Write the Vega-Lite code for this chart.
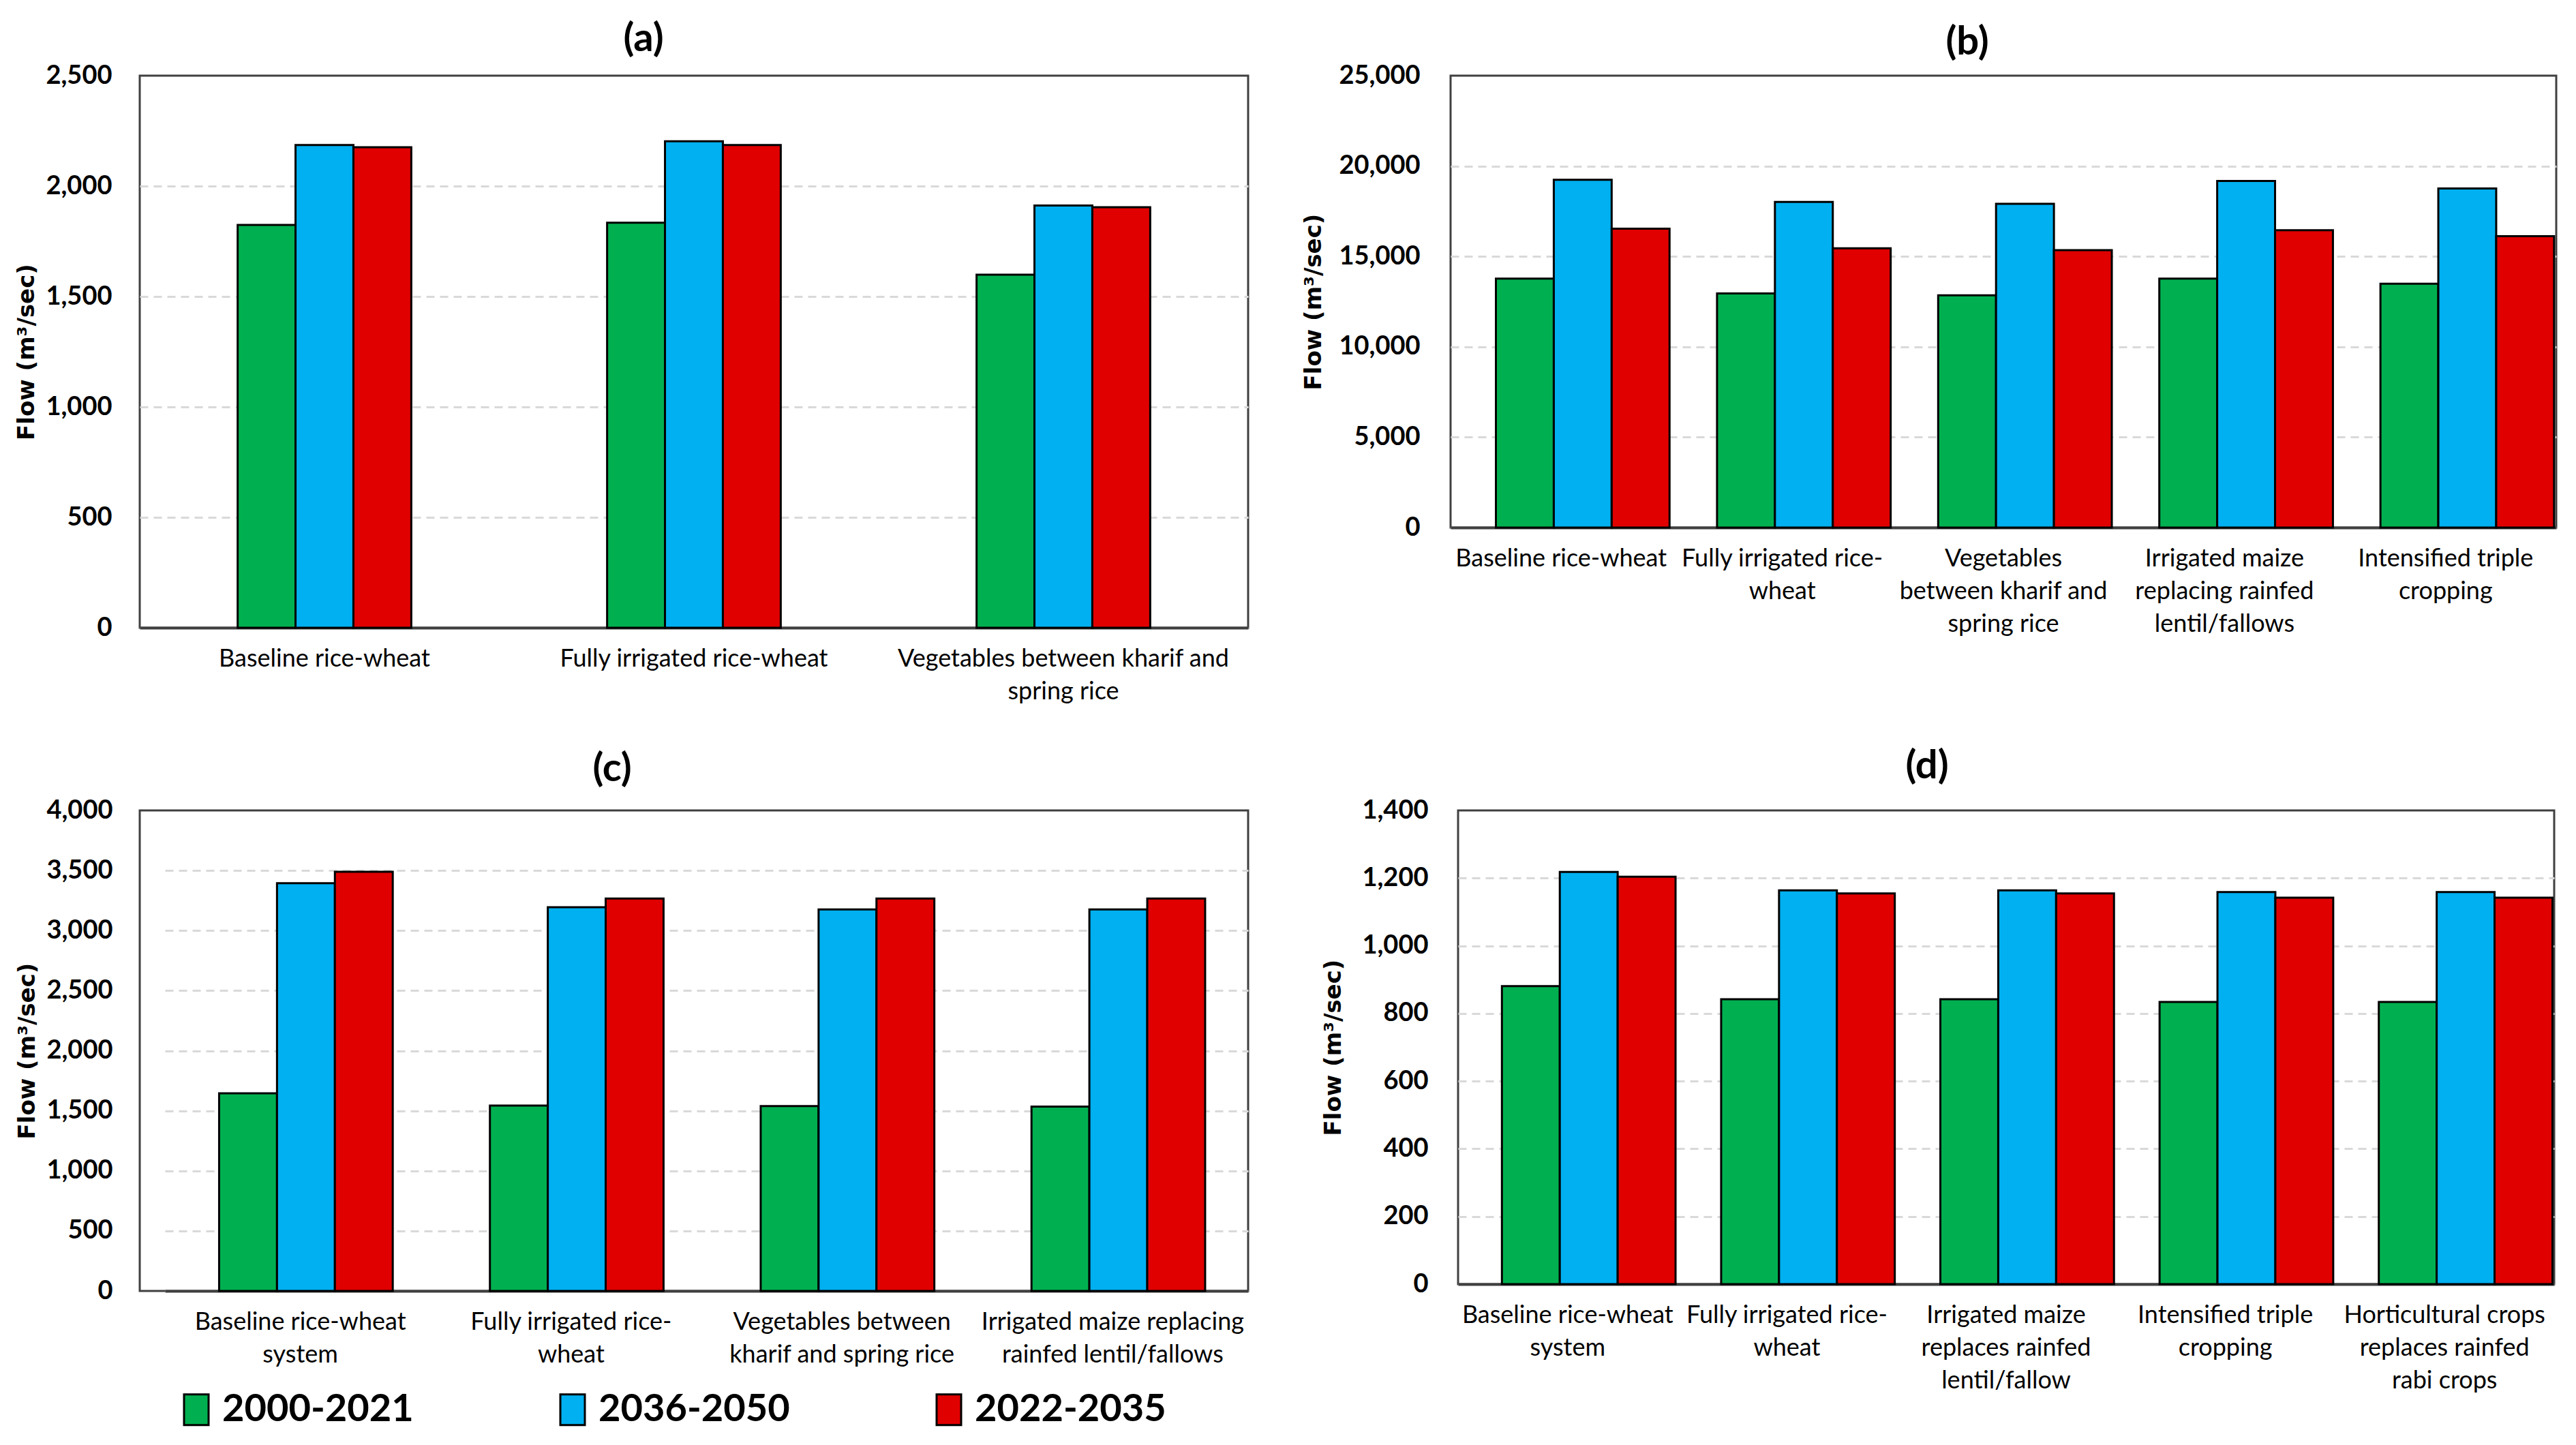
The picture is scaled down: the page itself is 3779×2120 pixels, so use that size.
{
  "$schema": "https://vega.github.io/schema/vega-lite/v6.json",
  "background": "white",
  "padding": {"left": 21, "top": 27, "right": 10, "bottom": 5},
  "datasets": {
    "flows": [
      {"panel": "a", "scenario": "Baseline rice-wheat", "period": "2000-2021", "flow": 1824},
      {"panel": "a", "scenario": "Baseline rice-wheat", "period": "2036-2050", "flow": 2186},
      {"panel": "a", "scenario": "Baseline rice-wheat", "period": "2022-2035", "flow": 2176},
      {"panel": "a", "scenario": "Fully irrigated rice-wheat", "period": "2000-2021", "flow": 1834},
      {"panel": "a", "scenario": "Fully irrigated rice-wheat", "period": "2036-2050", "flow": 2203},
      {"panel": "a", "scenario": "Fully irrigated rice-wheat", "period": "2022-2035", "flow": 2186},
      {"panel": "a", "scenario": "Vegetables between kharif and\nspring rice", "period": "2000-2021", "flow": 1599},
      {"panel": "a", "scenario": "Vegetables between kharif and\nspring rice", "period": "2036-2050", "flow": 1912},
      {"panel": "a", "scenario": "Vegetables between kharif and\nspring rice", "period": "2022-2035", "flow": 1904},

      {"panel": "b", "scenario": "Baseline rice-wheat", "period": "2000-2021", "flow": 13770},
      {"panel": "b", "scenario": "Baseline rice-wheat", "period": "2036-2050", "flow": 19240},
      {"panel": "b", "scenario": "Baseline rice-wheat", "period": "2022-2035", "flow": 16530},
      {"panel": "b", "scenario": "Fully irrigated rice-\nwheat", "period": "2000-2021", "flow": 12950},
      {"panel": "b", "scenario": "Fully irrigated rice-\nwheat", "period": "2036-2050", "flow": 18010},
      {"panel": "b", "scenario": "Fully irrigated rice-\nwheat", "period": "2022-2035", "flow": 15450},
      {"panel": "b", "scenario": "Vegetables\nbetween kharif and\nspring rice", "period": "2000-2021", "flow": 12850},
      {"panel": "b", "scenario": "Vegetables\nbetween kharif and\nspring rice", "period": "2036-2050", "flow": 17910},
      {"panel": "b", "scenario": "Vegetables\nbetween kharif and\nspring rice", "period": "2022-2035", "flow": 15350},
      {"panel": "b", "scenario": "Irrigated maize\nreplacing rainfed\nlentil/fallows", "period": "2000-2021", "flow": 13770},
      {"panel": "b", "scenario": "Irrigated maize\nreplacing rainfed\nlentil/fallows", "period": "2036-2050", "flow": 19170},
      {"panel": "b", "scenario": "Irrigated maize\nreplacing rainfed\nlentil/fallows", "period": "2022-2035", "flow": 16450},
      {"panel": "b", "scenario": "Intensified triple\ncropping", "period": "2000-2021", "flow": 13490},
      {"panel": "b", "scenario": "Intensified triple\ncropping", "period": "2036-2050", "flow": 18760},
      {"panel": "b", "scenario": "Intensified triple\ncropping", "period": "2022-2035", "flow": 16120},

      {"panel": "c", "scenario": "Baseline rice-wheat\nsystem", "period": "2000-2021", "flow": 1645},
      {"panel": "c", "scenario": "Baseline rice-wheat\nsystem", "period": "2036-2050", "flow": 3395},
      {"panel": "c", "scenario": "Baseline rice-wheat\nsystem", "period": "2022-2035", "flow": 3490},
      {"panel": "c", "scenario": "Fully irrigated rice-\nwheat", "period": "2000-2021", "flow": 1543},
      {"panel": "c", "scenario": "Fully irrigated rice-\nwheat", "period": "2036-2050", "flow": 3195},
      {"panel": "c", "scenario": "Fully irrigated rice-\nwheat", "period": "2022-2035", "flow": 3266},
      {"panel": "c", "scenario": "Vegetables between\nkharif and spring rice", "period": "2000-2021", "flow": 1539},
      {"panel": "c", "scenario": "Vegetables between\nkharif and spring rice", "period": "2036-2050", "flow": 3176},
      {"panel": "c", "scenario": "Vegetables between\nkharif and spring rice", "period": "2022-2035", "flow": 3266},
      {"panel": "c", "scenario": "Irrigated maize replacing\nrainfed lentil/fallows", "period": "2000-2021", "flow": 1535},
      {"panel": "c", "scenario": "Irrigated maize replacing\nrainfed lentil/fallows", "period": "2036-2050", "flow": 3176},
      {"panel": "c", "scenario": "Irrigated maize replacing\nrainfed lentil/fallows", "period": "2022-2035", "flow": 3266},

      {"panel": "d", "scenario": "Baseline rice-wheat\nsystem", "period": "2000-2021", "flow": 881},
      {"panel": "d", "scenario": "Baseline rice-wheat\nsystem", "period": "2036-2050", "flow": 1218},
      {"panel": "d", "scenario": "Baseline rice-wheat\nsystem", "period": "2022-2035", "flow": 1204},
      {"panel": "d", "scenario": "Fully irrigated rice-\nwheat", "period": "2000-2021", "flow": 842},
      {"panel": "d", "scenario": "Fully irrigated rice-\nwheat", "period": "2036-2050", "flow": 1164},
      {"panel": "d", "scenario": "Fully irrigated rice-\nwheat", "period": "2022-2035", "flow": 1155},
      {"panel": "d", "scenario": "Irrigated maize\nreplaces rainfed\nlentil/fallow", "period": "2000-2021", "flow": 842},
      {"panel": "d", "scenario": "Irrigated maize\nreplaces rainfed\nlentil/fallow", "period": "2036-2050", "flow": 1164},
      {"panel": "d", "scenario": "Irrigated maize\nreplaces rainfed\nlentil/fallow", "period": "2022-2035", "flow": 1155},
      {"panel": "d", "scenario": "Intensified triple\ncropping", "period": "2000-2021", "flow": 834},
      {"panel": "d", "scenario": "Intensified triple\ncropping", "period": "2036-2050", "flow": 1159},
      {"panel": "d", "scenario": "Intensified triple\ncropping", "period": "2022-2035", "flow": 1142},
      {"panel": "d", "scenario": "Horticultural crops\nreplaces rainfed\nrabi crops", "period": "2000-2021", "flow": 834},
      {"panel": "d", "scenario": "Horticultural crops\nreplaces rainfed\nrabi crops", "period": "2036-2050", "flow": 1159},
      {"panel": "d", "scenario": "Horticultural crops\nreplaces rainfed\nrabi crops", "period": "2022-2035", "flow": 1142}
    ]
  },
  "config": {
    "font": "Lato",
    "view": {"stroke": "#404040", "strokeWidth": 3},
    "bar": {"stroke": "black", "strokeWidth": 3},
    "axis": {"labelFont": "Lato", "labelColor": "black", "titleColor": "black"},
    "axisY": {
      "labelFontSize": 38, "labelFontWeight": "bold", "labelPadding": 41,
      "ticks": false, "domain": false, "grid": true,
      "gridColor": "#D9D9D9", "gridDash": [12, 8], "gridWidth": 3,
      "titleFont": "DejaVu Sans", "titleFontSize": 34, "titleFontWeight": "bold", "titlePadding": 10
    },
    "axisX": {
      "labelFontSize": 36, "labelPadding": 28, "ticks": false,
      "domainColor": "#404040", "domainWidth": 4, "labelAngle": 0,
      "labelLimit": 800, "labelLineHeight": 48, "labelOverlap": false, "grid": false
    },
    "title": {"font": "Lato", "fontSize": 58, "fontWeight": "bold", "color": "black"},
    "legend": {
      "orient": "none", "legendX": 55, "legendY": 1929, "direction": "horizontal",
      "symbolType": "M-0.8,-1H0.8V1H-0.8Z", "symbolSize": 2025,
      "symbolStrokeColor": "black", "symbolStrokeWidth": 4,
      "labelFont": "Lato", "labelFontSize": 56, "labelFontWeight": "bold", "labelColor": "black",
      "labelOffset": 10, "columnPadding": 205, "labelLimit": 600, "padding": 0
    }
  },
  "spacing": 60,
  "vconcat": [
    {
      "spacing": 76,
      "hconcat": [
        {
          "title": {"text": "(a)", "offset": 5, "dx": -74},
          "width": 1626, "height": 810,
          "data": {"name": "flows"},
          "transform": [{"filter": "datum.panel === 'a'"}],
          "mark": "bar",
          "encoding": {
            "x": {"field": "scenario", "type": "nominal", "sort": null, "title": null,
                  "scale": {"paddingInner": 0.53, "paddingOuter": 0.265},
                  "axis": {"labelExpr": "split(datum.value, '\\n')"}},
            "xOffset": {"field": "period", "type": "nominal", "sort": ["2000-2021", "2036-2050", "2022-2035"], "scale": {"paddingInner": 0}},
            "y": {"field": "flow", "type": "quantitative", "title": "Flow (m³/sec)",
                  "scale": {"domain": [0, 2500], "nice": false},
                  "axis": {"values": [0, 500, 1000, 1500, 2000, 2500], "format": ",d",
                           "gridOpacity": {"condition": {"test": "datum.value >= 2500", "value": 0}, "value": 1}}},
            "color": {"field": "period", "type": "nominal", "title": null,
                      "scale": {"domain": ["2000-2021", "2036-2050", "2022-2035"], "range": ["#00B050", "#00B0F0", "#E00000"]}}
          }
        },
        {
          "title": {"text": "(b)", "offset": 0, "dx": -53},
          "width": 1622, "height": 663,
          "data": {"name": "flows"},
          "transform": [{"filter": "datum.panel === 'b'"}],
          "mark": "bar",
          "encoding": {
            "x": {"field": "scenario", "type": "nominal", "sort": null, "title": null,
                  "scale": {"paddingInner": 0.41, "paddingOuter": 0.205},
                  "axis": {"labelExpr": "split(datum.value, '\\n')"}},
            "xOffset": {"field": "period", "type": "nominal", "sort": ["2000-2021", "2036-2050", "2022-2035"], "scale": {"paddingInner": 0}},
            "y": {"field": "flow", "type": "quantitative", "title": "Flow (m³/sec)",
                  "scale": {"domain": [0, 25000], "nice": false},
                  "axis": {"values": [0, 5000, 10000, 15000, 20000, 25000], "format": ",d", "labelPadding": 45, "titlePadding": 19,
                           "gridOpacity": {"condition": {"test": "datum.value >= 25000", "value": 0}, "value": 1}}},
            "color": {"field": "period", "type": "nominal", "title": null,
                      "scale": {"domain": ["2000-2021", "2036-2050", "2022-2035"], "range": ["#00B050", "#00B0F0", "#E00000"]}}
          }
        }
      ]
    },
    {
      "spacing": 105,
      "hconcat": [
        {
          "title": {"text": "(c)", "offset": 12, "dx": -120},
          "width": 1626, "height": 705,
          "data": {"name": "flows"},
          "transform": [{"filter": "datum.panel === 'c'"}],
          "mark": "bar",
          "encoding": {
            "x": {"field": "scenario", "type": "nominal", "sort": null, "title": null,
                  "scale": {"range": [37, 1626], "paddingInner": 0.4, "paddingOuter": 0.2},
                  "axis": {"labelExpr": "split(datum.value, '\\n')"}},
            "xOffset": {"field": "period", "type": "nominal", "sort": ["2000-2021", "2036-2050", "2022-2035"], "scale": {"paddingInner": 0}},
            "y": {"field": "flow", "type": "quantitative", "title": "Flow (m³/sec)",
                  "scale": {"domain": [0, 4000], "nice": false},
                  "axis": {"values": [0, 500, 1000, 1500, 2000, 2500, 3000, 3500, 4000], "format": ",d", "labelPadding": 40, "titlePadding": 10,
                           "gridOpacity": {"condition": {"test": "datum.value >= 4000", "value": 0}, "value": 1}}},
            "color": {"field": "period", "type": "nominal", "title": null,
                      "scale": {"domain": ["2000-2021", "2036-2050", "2022-2035"], "range": ["#00B050", "#00B0F0", "#E00000"]}}
          }
        },
        {
          "title": {"text": "(d)", "offset": 16, "dx": -116},
          "width": 1608, "height": 695,
          "data": {"name": "flows"},
          "transform": [{"filter": "datum.panel === 'd'"}],
          "mark": "bar",
          "encoding": {
            "x": {"field": "scenario", "type": "nominal", "sort": null, "title": null,
                  "scale": {"paddingInner": 0.4, "paddingOuter": 0.2},
                  "axis": {"labelExpr": "split(datum.value, '\\n')"}},
            "xOffset": {"field": "period", "type": "nominal", "sort": ["2000-2021", "2036-2050", "2022-2035"], "scale": {"paddingInner": 0}},
            "y": {"field": "flow", "type": "quantitative", "title": "Flow (m³/sec)",
                  "scale": {"domain": [0, 1400], "nice": false},
                  "axis": {"values": [0, 200, 400, 600, 800, 1000, 1200, 1400], "format": ",d", "labelPadding": 44, "titlePadding": 24,
                           "gridOpacity": {"condition": {"test": "datum.value >= 1400", "value": 0}, "value": 1}}},
            "color": {"field": "period", "type": "nominal", "title": null,
                      "scale": {"domain": ["2000-2021", "2036-2050", "2022-2035"], "range": ["#00B050", "#00B0F0", "#E00000"]}}
          }
        }
      ]
    }
  ]
}
